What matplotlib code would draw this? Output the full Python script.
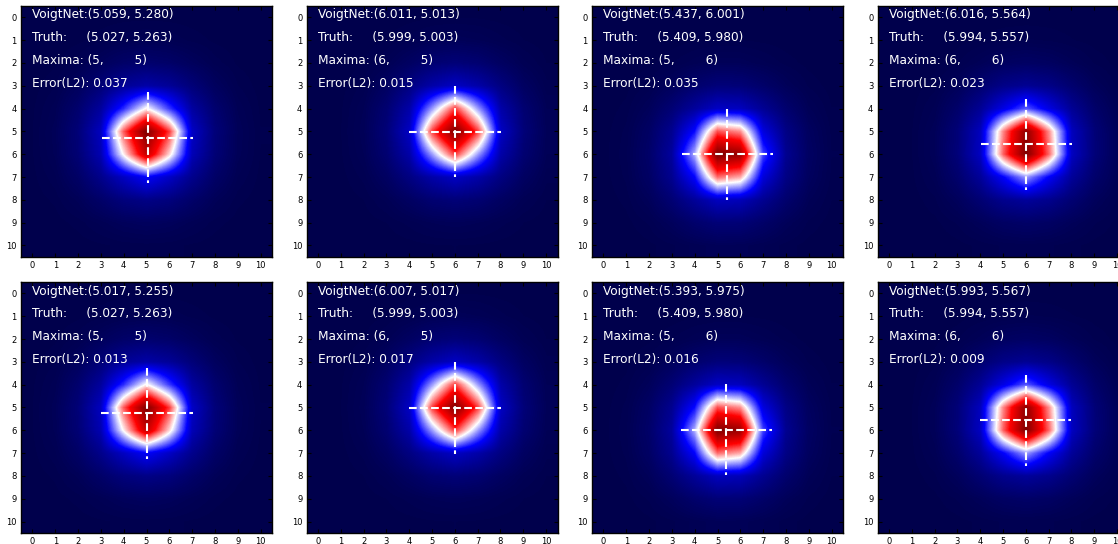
import numpy as np
import matplotlib
matplotlib.use("Agg")
import matplotlib.pyplot as plt

# Ground-truth peak centres (x, y) for each column
truth_x = [5.027, 5.999, 5.409, 5.994]
truth_y = [5.263, 5.003, 5.980, 5.557]
maxima_x = [5, 6, 5, 6]
maxima_y = [5, 5, 6, 6]

# Network predictions, one row per model run
pred_x = [[5.059, 6.011, 5.437, 6.016],
          [5.017, 6.007, 5.393, 5.993]]
pred_y = [[5.280, 5.013, 6.001, 5.564],
          [5.255, 5.017, 5.975, 5.567]]
errors = [[0.037, 0.015, 0.035, 0.023],
          [0.013, 0.017, 0.016, 0.009]]

grid_size = 11
# Peak profile: sharp core plus a broad wing
core_width, core_power, core_weight = 1.3, 3.0, 0.7
wing_width = 2.4


def peak_profile(r):
    core = np.exp(-(r / core_width) ** core_power)
    wing = np.exp(-(r / wing_width) ** 2)
    return core_weight * core + (1 - core_weight) * wing


W, H = 1118, 544
fig = plt.figure(figsize=(W / 100, H / 100), dpi=100)

ax_w = 251
col_left = [21 + 285.5 * i for i in range(4)]
row_top = [5.9, 282.0]

yy, xx = np.mgrid[0:grid_size, 0:grid_size]

for r in range(2):
    for c in range(4):
        left = col_left[c] / W
        bottom = (H - row_top[r] - ax_w) / H
        ax = fig.add_axes([left, bottom, ax_w / W, ax_w / H])

        # Heatmap sampled on the pixel grid around the true centre
        dist = np.hypot(xx - truth_x[c], yy - truth_y[c])
        field = peak_profile(dist)
        field = field / field.max()
        ax.imshow(field, cmap="seismic", vmin=0, vmax=1,
                  interpolation="bilinear", interpolation_stage="data")

        px, py = pred_x[r][c], pred_y[r][c]
        ax.plot([px - 2, px + 2], [py, py], color="white", ls="--", lw=1.5)
        ax.plot([px, px], [py - 2, py + 2], color="white", ls="--", lw=1.5)

        lines = [
            "VoigtNet:({:.3f}, {:.3f})".format(px, py),
            "Truth:     ({:.3f}, {:.3f})".format(truth_x[c], truth_y[c]),
            "Maxima: ({},        {})".format(maxima_x[c], maxima_y[c]),
            "Error(L2): {:.3f}".format(errors[r][c]),
        ]
        for i, s in enumerate(lines):
            ax.text(0, i + 0.05, s, color="white", fontsize=8.7)

        ax.set_xlim(-0.5, grid_size - 0.5)
        ax.set_ylim(grid_size - 0.5, -0.5)
        ax.set_xticks(range(grid_size))
        ax.set_yticks(range(grid_size))
        ax.tick_params(direction="in", top=True, right=True, length=3,
                       width=0.8, labelsize=6, pad=3)
        for sp in ax.spines.values():
            sp.set_linewidth(1.0)

fig.savefig("out.png", dpi=100)
